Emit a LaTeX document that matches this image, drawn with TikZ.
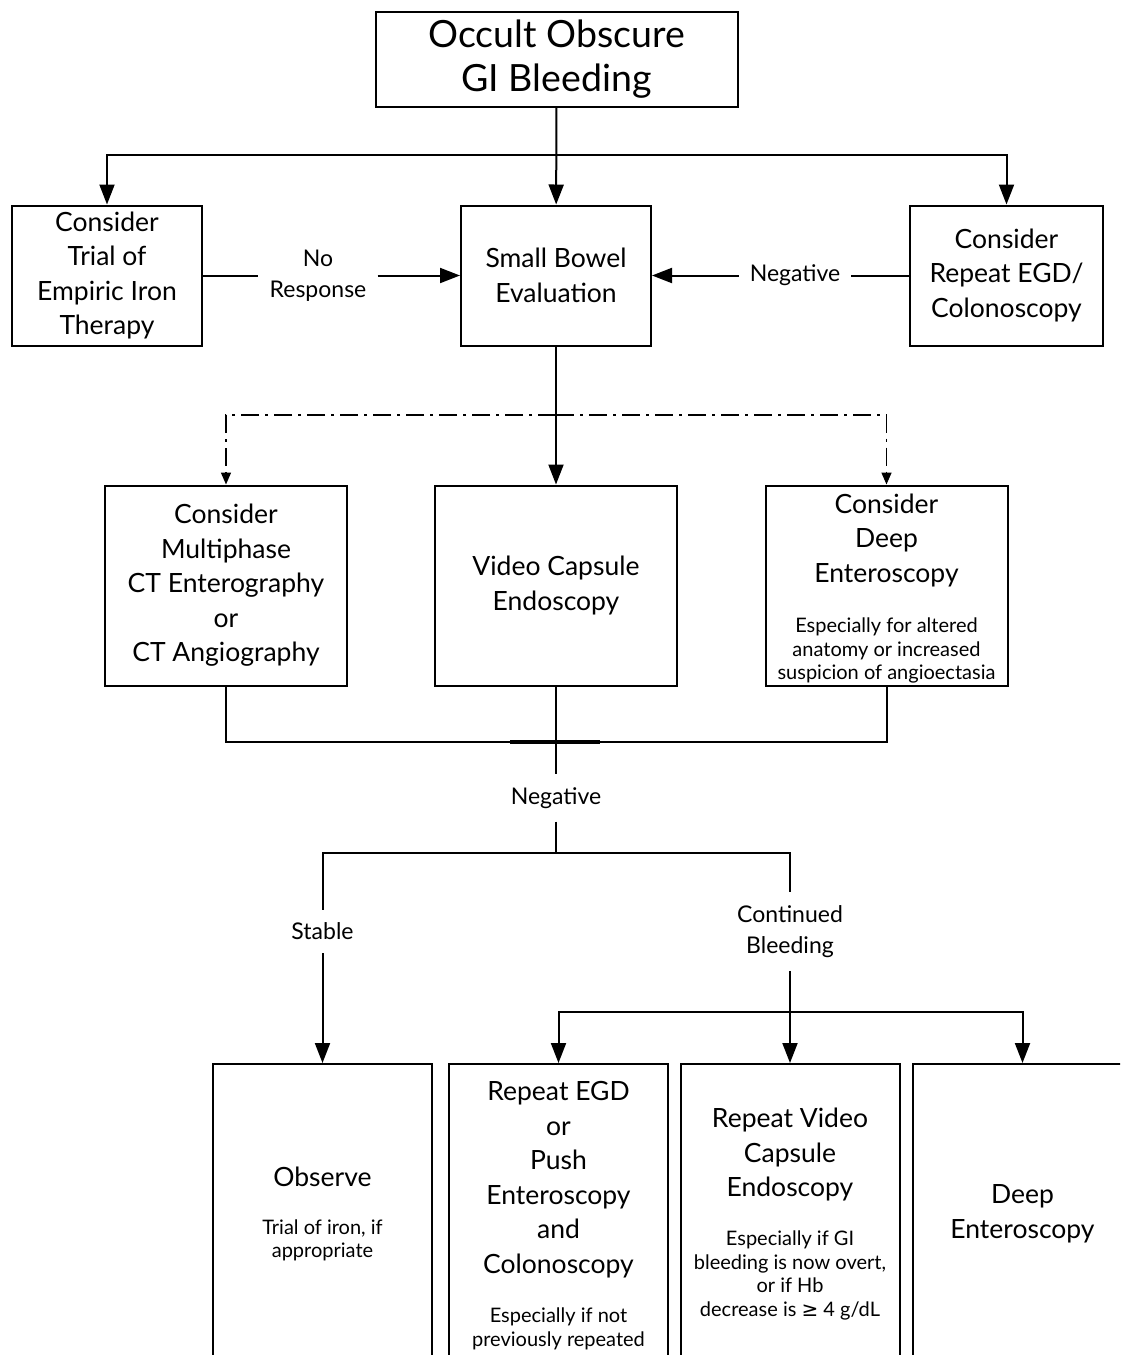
\documentclass[tikz,border=0pt]{standalone}
\usepackage{fontspec}
\setmainfont{Lato}
\newfontfamily\symfont{DejaVu Sans}
\usetikzlibrary{arrows.meta}
\newcommand{\headfont}{\fontsize{37.5}{44}\selectfont}
\newcommand{\boxfont}{\fontsize{26.5}{34.5}\selectfont}
\newcommand{\lblfont}{\fontsize{23}{31}\selectfont}
\newcommand{\notefont}{\fontsize{20}{23.5}\selectfont}

\begin{document}
\begin{tikzpicture}[x=1pt, y=-1pt,
    box/.style={draw, line width=2pt, inner sep=0pt, align=center, font=\boxfont},
    txt/.style={inner sep=0pt, align=center, font=\boxfont},
    note/.style={inner sep=0pt, align=center, font=\notefont},
    lbl/.style={inner xsep=11pt, inner ysep=13pt, align=center, font=\lblfont},
    ln/.style={line width=2pt},
    arr/.style={line width=2pt, -{Triangle[length=20pt,width=15pt]}},
    dda/.style={line width=1.5pt, dash pattern=on 18pt off 6pt on 3pt off 6pt,
        -{Triangle[length=12pt,width=10pt]}}]
        \useasboundingbox (0,0) rectangle (1120,1355);
        \clip (0,0) rectangle (1120,1355);
        \node[box, minimum width=362, minimum height=95, font=\headfont] (occ) at (556.5,59.5)
        {Occult Obscure\\GI Bleeding};
        \node[box, minimum width=190, minimum height=140] (trial) at (107,275.5)
        {Consider\\Trial of\\Empiric Iron\\Therapy};
        \node[box, minimum width=190, minimum height=140] (sbe) at (556,275.5)
        {Small Bowel\\Evaluation};
        \node[box, minimum width=193, minimum height=140] (rep) at (1006.5,275.5)
        {Consider\\Repeat EGD/\\Colonoscopy};
        \node[box, minimum width=242, minimum height=200] (ct) at (226,585.5)
        {Consider\\Multiphase\\CT Enterography\\or\\CT Angiography};
        \node[box, minimum width=242, minimum height=200] (vce) at (556,585.5)
        {Video Capsule\\Endoscopy};
        \node[box, minimum width=242, minimum height=200] (deep) at (886.5,585.5) {};
        \node[txt] (deeptx) at (886.5,540.5) {Consider\\Deep\\Enteroscopy};
        \node[note] (deepnt) at (886.5,650.5)
        {Especially for altered\\anatomy or increased\\suspicion of angioectasia};
        \foreach \nm/\x in {obs/322.5, egd/558.5, rvc/790, ddp/1022.5}
        \node[box, anchor=north, minimum width=219, minimum height=340] (\nm) at (\x,1063) {};
        \node[txt] (obstx) at (322.5,1177) {Observe};
        \node[note] (obsnt) at (322.5,1240.5) {Trial of iron, if\\appropriate};
        \node[txt] (egdtx) at (558.5,1179.5)
        {Repeat EGD\\or\\Push\\Enteroscopy\\and\\Colonoscopy};
        \node[note] (egdnt) at (558.5,1329) {Especially if not\\previously repeated};
        \node[txt] (rvctx) at (790,1154.5) {Repeat Video\\Capsule\\Endoscopy};
        \node[note] (rvcnt) at (790,1275.5)
        {Especially if GI\\bleeding is now overt,\\or if Hb\\decrease is {\symfont ≥} 4 g/dL};
        \node[txt] (ddptx) at (1022.5,1214) {Deep\\Enteroscopy};
        \node[lbl] (nr) at (318,275.5) {No\\Response};
        \node[lbl] (neg1) at (795,275.5) {Negative};
        \node[lbl] (neg2) at (556,798) {Negative};
        \node[lbl] (stab) at (322.5,931.5) {Stable};
        \node[lbl] (cont) at (790,931.5) {Continued\\Bleeding};
        \coordinate (j1) at (556,155);
        \coordinate (j2) at (556,415);
        \coordinate (j3) at (556,742);
        \coordinate (j4) at (556,853);
        \coordinate (j5) at (790,1012);
        \draw[arr] (occ) -- (sbe);
        \draw[arr] (j1) -| (trial);
        \draw[arr] (j1) -| (rep);
        \draw[ln] (trial) -- (nr);
        \draw[arr] (nr) -- (sbe);
        \draw[ln] (rep) -- (neg1);
        \draw[arr] (neg1) -- (sbe);
        \draw[arr] (sbe) -- (vce);
        \draw[dda] (j2) -| (ct);
        \draw[dda] (j2) -| (deep);
        \draw[ln] (ct) |- (j3) -| (deep);
        \draw[ln] (vce) -- (j3);
        \draw[line width=3.5pt] ([xshift=-46pt]j3) -- ([xshift=44pt]j3);
        \draw[ln] (j3) -- (neg2);
        \draw[ln] (neg2) -- (j4);
        \draw[ln] (stab) |- (j4) -| (cont);
        \draw[arr] (stab) -- (obs);
        \draw[arr] (cont) -- (rvc);
        \draw[arr] (j5) -| (egd);
        \draw[arr] (j5) -| (ddp);
    \end{tikzpicture}
\end{document}
